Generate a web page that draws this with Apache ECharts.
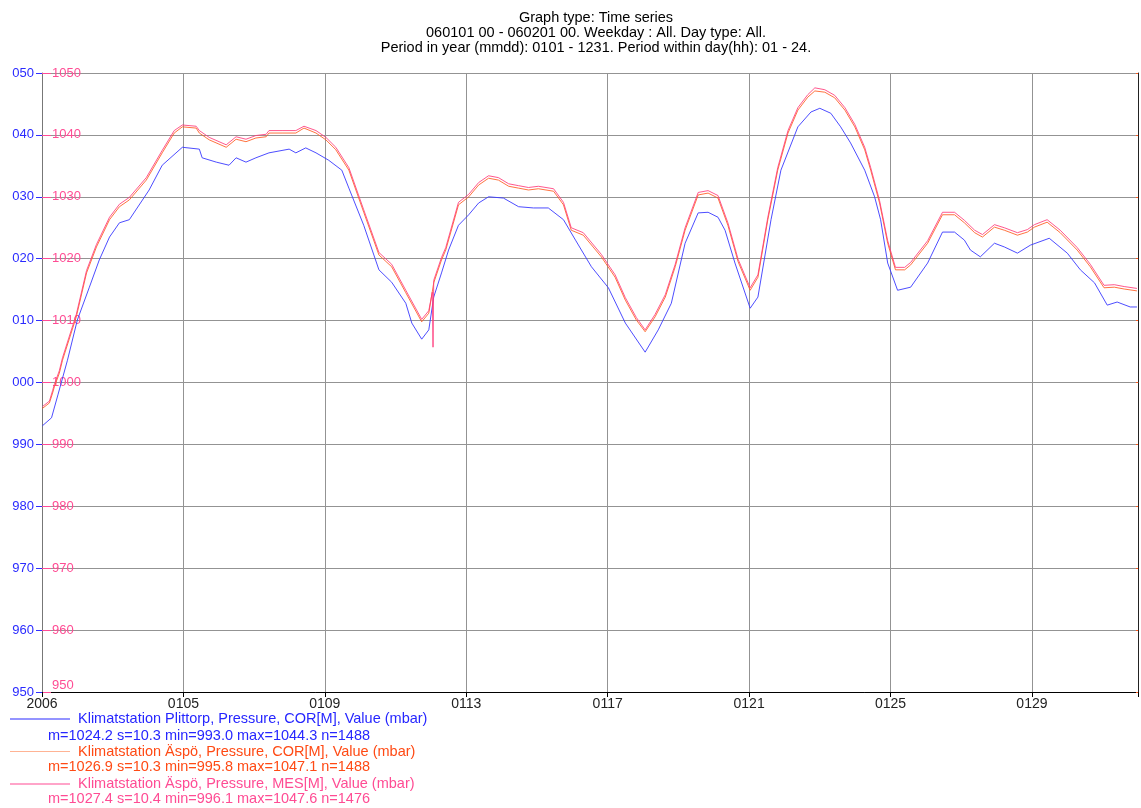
<!DOCTYPE html>
<html>
<head>
<meta charset="utf-8">
<script src="https://cdn.jsdelivr.net/npm/echarts@6/dist/echarts.min.js"></script>
<style>
  html, body { margin: 0; padding: 0; background: #fff; }
  #chart { width: 1141px; height: 808px; }
</style>
</head>
<body>
<div id="chart"></div>
<script>
// time is in days since 2006-01-01 00:00, pressure in mbar
var titleLines = [
  'Graph type: Time series',
  '060101 00 - 060201 00. Weekday : All. Day type: All.',
  'Period in year (mmdd): 0101 - 1231. Period within day(hh): 01 - 24.'
];
var xTickLabels = ['2006', '0105', '0109', '0113', '0117', '0121', '0125', '0129'];
var seriesNames = [
  'Klimatstation Plittorp, Pressure, COR[M], Value (mbar)',
  'Klimatstation Äspö, Pressure, COR[M], Value (mbar)',
  'Klimatstation Äspö, Pressure, MES[M], Value (mbar)'
];
var seriesStats = [
  'm=1024.2 s=10.3 min=993.0 max=1044.3 n=1488',
  'm=1026.9 s=10.3 min=995.8 max=1047.1 n=1488',
  'm=1027.4 s=10.4 min=996.1 max=1047.6 n=1476'
];

var plittorpCor = [
  [0.01, 993.0], [0.27, 994.3], [0.45, 998.0], [0.72, 1003.6], [1.00, 1010.1], [1.34, 1015.4],
  [1.62, 1019.8], [1.91, 1023.5], [2.19, 1025.8], [2.47, 1026.3], [3.03, 1031.1], [3.40, 1035.1],
  [3.97, 1038.0], [4.45, 1037.7], [4.53, 1036.3], [4.93, 1035.6], [5.29, 1035.1], [5.49, 1036.3],
  [5.77, 1035.6], [6.05, 1036.3], [6.42, 1037.1], [6.99, 1037.7], [7.18, 1037.1], [7.46, 1037.9],
  [7.75, 1037.1], [8.11, 1035.9], [8.48, 1034.3], [8.68, 1031.4], [9.10, 1025.4], [9.53, 1018.2],
  [9.89, 1016.2], [10.29, 1012.8], [10.46, 1009.6], [10.74, 1007.0], [10.94, 1008.5], [11.08, 1013.8],
  [11.30, 1017.7], [11.50, 1021.4], [11.78, 1025.4], [12.07, 1027.1], [12.35, 1029.0], [12.63, 1030.0],
  [13.05, 1029.8], [13.48, 1028.4], [13.90, 1028.2], [14.32, 1028.2], [14.75, 1026.3], [15.09, 1023.0],
  [15.54, 1018.7], [16.02, 1015.3], [16.50, 1009.6], [17.06, 1004.9], [17.43, 1008.5], [17.80, 1012.8],
  [18.19, 1022.5], [18.56, 1027.4], [18.84, 1027.5], [19.12, 1026.7], [19.32, 1024.6], [19.60, 1019.3],
  [20.03, 1012.0], [20.25, 1013.8], [20.62, 1026.3], [20.90, 1034.3], [21.38, 1041.3], [21.75, 1043.7],
  [22.00, 1044.3], [22.31, 1043.5], [22.59, 1041.3], [22.87, 1038.7], [23.27, 1034.3], [23.55, 1030.0],
  [23.72, 1026.3], [23.92, 1019.3], [24.20, 1014.9], [24.57, 1015.4], [25.05, 1019.3], [25.47, 1024.3],
  [25.81, 1024.3], [26.09, 1023.0], [26.26, 1021.4], [26.54, 1020.3], [26.94, 1022.5], [27.22, 1021.9],
  [27.59, 1020.9], [27.96, 1022.2], [28.49, 1023.3], [29.00, 1020.9], [29.37, 1018.2], [29.77, 1016.1],
  [30.13, 1012.5], [30.41, 1013.0], [30.78, 1012.2], [30.97, 1012.2]
];

var aspoCor = [
  [0.01, 995.8], [0.21, 996.7], [0.30, 998.3], [0.35, 999.3], [0.49, 1001.5], [0.58, 1003.6],
  [0.97, 1010.6], [1.26, 1017.7], [1.54, 1021.9], [1.91, 1026.3], [2.19, 1028.4], [2.47, 1029.5],
  [2.95, 1032.7], [3.40, 1037.1], [3.74, 1040.3], [3.97, 1041.3], [4.36, 1041.1], [4.45, 1040.3],
  [4.73, 1039.2], [5.21, 1038.0], [5.49, 1039.3], [5.77, 1038.9], [6.05, 1039.5], [6.34, 1039.7],
  [6.42, 1040.3], [6.79, 1040.3], [7.18, 1040.3], [7.41, 1041.1], [7.75, 1040.3], [8.03, 1039.2],
  [8.31, 1037.6], [8.68, 1034.3], [9.10, 1027.5], [9.53, 1020.6], [9.89, 1018.7], [10.29, 1014.5],
  [10.74, 1009.8], [10.94, 1011.2], [11.08, 1016.1], [11.30, 1019.8], [11.42, 1021.4], [11.78, 1028.7],
  [12.07, 1030.0], [12.35, 1031.9], [12.63, 1033.0], [12.91, 1032.7], [13.20, 1031.7], [13.48, 1031.4],
  [13.76, 1031.1], [14.04, 1031.3], [14.47, 1030.9], [14.75, 1028.7], [14.97, 1024.6], [15.31, 1023.8],
  [15.82, 1020.3], [16.21, 1017.0], [16.50, 1013.3], [16.81, 1010.1], [17.06, 1008.2], [17.34, 1010.6],
  [17.63, 1013.8], [17.91, 1018.7], [18.19, 1024.6], [18.56, 1030.3], [18.84, 1030.6], [19.12, 1029.8],
  [19.40, 1025.4], [19.69, 1019.5], [20.03, 1014.9], [20.25, 1017.0], [20.53, 1026.3], [20.81, 1034.3],
  [21.10, 1040.3], [21.38, 1044.0], [21.66, 1046.1], [21.86, 1047.1], [22.14, 1046.9], [22.42, 1046.0],
  [22.71, 1044.0], [22.99, 1041.3], [23.27, 1037.6], [23.44, 1034.3], [23.69, 1029.0], [23.92, 1022.5],
  [24.14, 1018.2], [24.40, 1018.2], [24.57, 1019.0], [25.05, 1022.5], [25.47, 1027.1], [25.81, 1027.1],
  [26.09, 1025.8], [26.38, 1024.2], [26.60, 1023.5], [26.94, 1025.1], [27.22, 1024.6], [27.59, 1023.8],
  [27.87, 1024.3], [28.07, 1025.1], [28.43, 1025.9], [28.80, 1024.2], [29.28, 1021.4], [29.65, 1018.7],
  [30.04, 1015.3], [30.33, 1015.4], [30.61, 1015.1], [30.97, 1014.8]
];

var aspoMes = [
  [0.01, 996.1], [0.21, 997.0], [0.30, 998.7], [0.35, 999.7], [0.49, 1001.9], [0.58, 1004.0],
  [0.97, 1011.0], [1.26, 1018.1], [1.54, 1022.3], [1.91, 1026.7], [2.19, 1028.8], [2.47, 1029.9],
  [2.95, 1033.1], [3.40, 1037.5], [3.74, 1040.7], [3.97, 1041.6], [4.36, 1041.4], [4.45, 1040.7],
  [4.73, 1039.6], [5.21, 1038.4], [5.49, 1039.7], [5.77, 1039.3], [6.05, 1039.9], [6.34, 1040.1],
  [6.42, 1040.7], [6.79, 1040.7], [7.18, 1040.7], [7.41, 1041.4], [7.75, 1040.7], [8.03, 1039.6],
  [8.31, 1038.0], [8.68, 1034.7], [9.10, 1027.9], [9.53, 1021.0], [9.89, 1019.1], [10.29, 1014.9],
  [10.74, 1010.2], [10.94, 1011.6], [11.04, 1014.6], [11.06, 1005.7], [11.08, 1016.5], [11.30, 1020.2],
  [11.42, 1021.8], [11.78, 1029.1], [12.07, 1030.4], [12.35, 1032.3], [12.63, 1033.4], [12.91, 1033.1],
  [13.20, 1032.1], [13.48, 1031.8], [13.76, 1031.5], [14.04, 1031.7], [14.47, 1031.3], [14.75, 1029.1],
  [14.97, 1025.0], [15.31, 1024.2], [15.82, 1020.7], [16.21, 1017.4], [16.50, 1013.7], [16.81, 1010.5],
  [17.06, 1008.5], [17.34, 1011.0], [17.63, 1014.2], [17.91, 1019.1], [18.19, 1025.0], [18.56, 1030.7],
  [18.84, 1031.0], [19.12, 1030.2], [19.40, 1025.8], [19.69, 1019.9], [20.03, 1015.3], [20.25, 1017.4],
  [20.53, 1026.7], [20.81, 1034.7], [21.10, 1040.7], [21.38, 1044.4], [21.66, 1046.5], [21.86, 1047.6],
  [22.14, 1047.3], [22.42, 1046.4], [22.71, 1044.4], [22.99, 1041.7], [23.27, 1038.0], [23.44, 1034.7],
  [23.69, 1029.4], [23.92, 1022.9], [24.14, 1018.6], [24.40, 1018.6], [24.57, 1019.4], [25.05, 1022.9],
  [25.47, 1027.5], [25.81, 1027.5], [26.09, 1026.2], [26.38, 1024.6], [26.60, 1023.9], [26.94, 1025.5],
  [27.22, 1025.0], [27.59, 1024.2], [27.87, 1024.7], [28.07, 1025.5], [28.43, 1026.3], [28.80, 1024.6],
  [29.28, 1021.8], [29.65, 1019.1], [30.04, 1015.7], [30.33, 1015.8], [30.61, 1015.5], [30.97, 1015.2]
];

var FONT = 'Liberation Sans, Arial, sans-serif';
var lineColors = ['#3a3aff', '#ff5a1f', '#ff3a7a'];
var legendLineColors = ['#2a2aff', '#ffb394', '#ff4a94'];
var textColors = ['#2626ff', '#ff4a14', '#ff4c94'];

var myChart = echarts.init(document.getElementById('chart'));

var legends = [];
var stats = [];
for (var i = 0; i < seriesNames.length; i++) {
  legends.push({
    left: 5,
    top: 706.5 + i * 32.5,
    itemWidth: 60,
    itemHeight: 1,
    itemGap: 0,
    icon: 'rect',
    selectedMode: false,
    textStyle: { fontFamily: FONT, fontSize: 14.5, color: textColors[i], padding: [0, 0, 0, 3] },
    data: [{ name: seriesNames[i], itemStyle: { color: legendLineColors[i] } }]
  });
  stats.push({
    type: 'text',
    left: 48,
    top: 728 + i * 31.5,
    style: { text: seriesStats[i], font: '14.5px ' + FONT, fill: textColors[i] }
  });
}

myChart.setOption({
  animation: false,
  title: {
    text: titleLines.join('\n'),
    left: 591,
    top: 5,
    textAlign: 'center',
    textStyle: { fontFamily: FONT, fontSize: 14.5, fontWeight: 'normal', color: '#000', lineHeight: 15 }
  },
  legend: legends,
  graphic: stats,
  grid: { left: 42, right: 1, top: 73, bottom: 116 },
  xAxis: {
    type: 'value',
    min: 0,
    max: 31,
    interval: 4,
    axisLine: { lineStyle: { color: '#000', width: 1 } },
    axisTick: { show: true, length: 5, lineStyle: { color: '#000' } },
    axisLabel: {
      fontFamily: FONT, fontSize: 14, color: '#222', margin: 5,
      formatter: function (v) { return v % 4 === 0 ? xTickLabels[v / 4] : ''; }
    },
    splitLine: { show: true, lineStyle: { color: '#939393', width: 1 } }
  },
  yAxis: [
    {
      type: 'value',
      position: 'left',
      min: 950,
      max: 1050,
      interval: 10,
      axisLine: { show: true, lineStyle: { color: '#777' } },
      axisTick: { show: true, length: 6, lineStyle: { color: '#3030ff' } },
      axisLabel: {
        fontFamily: FONT, fontSize: 13, color: '#2a2aff', margin: 8,
        formatter: function (v) { return ('00' + (v % 1000)).slice(-3); }
      },
      splitLine: { show: true, lineStyle: { color: '#939393', width: 1 } }
    },
    {
      type: 'value',
      position: 'left',
      min: 950,
      max: 1050,
      interval: 10,
      axisLine: { show: false },
      axisTick: { show: true, inside: true, length: 9, lineStyle: { color: '#ff4c94' } },
      axisLabel: {
        inside: true, fontFamily: FONT, fontSize: 13, color: '#ff4c94', margin: 10,
        verticalAlignMinLabel: 'bottom',
        formatter: function (v) { return String(v); }
      },
      splitLine: { show: false }
    },
    {
      type: 'value',
      position: 'right',
      min: 950,
      max: 1050,
      interval: 10,
      axisLine: { show: true, lineStyle: { color: '#222' } },
      axisTick: { show: true, inside: true, length: 2, lineStyle: { color: '#ff5a1f' } },
      axisLabel: { show: false },
      splitLine: { show: false }
    }
  ],
  series: [
    {
      name: seriesNames[0], type: 'line', yAxisIndex: 0, showSymbol: false,
      lineStyle: { color: lineColors[0], width: 1, opacity: 0.9 }, itemStyle: { color: lineColors[0] },
      data: plittorpCor
    },
    {
      name: seriesNames[1], type: 'line', yAxisIndex: 0, showSymbol: false,
      lineStyle: { color: lineColors[1], width: 1, opacity: 0.85 }, itemStyle: { color: lineColors[1] },
      data: aspoCor
    },
    {
      name: seriesNames[2], type: 'line', yAxisIndex: 0, showSymbol: false,
      lineStyle: { color: lineColors[2], width: 1, opacity: 0.85 }, itemStyle: { color: lineColors[2] },
      data: aspoMes
    }
  ]
});
</script>
</body>
</html>
